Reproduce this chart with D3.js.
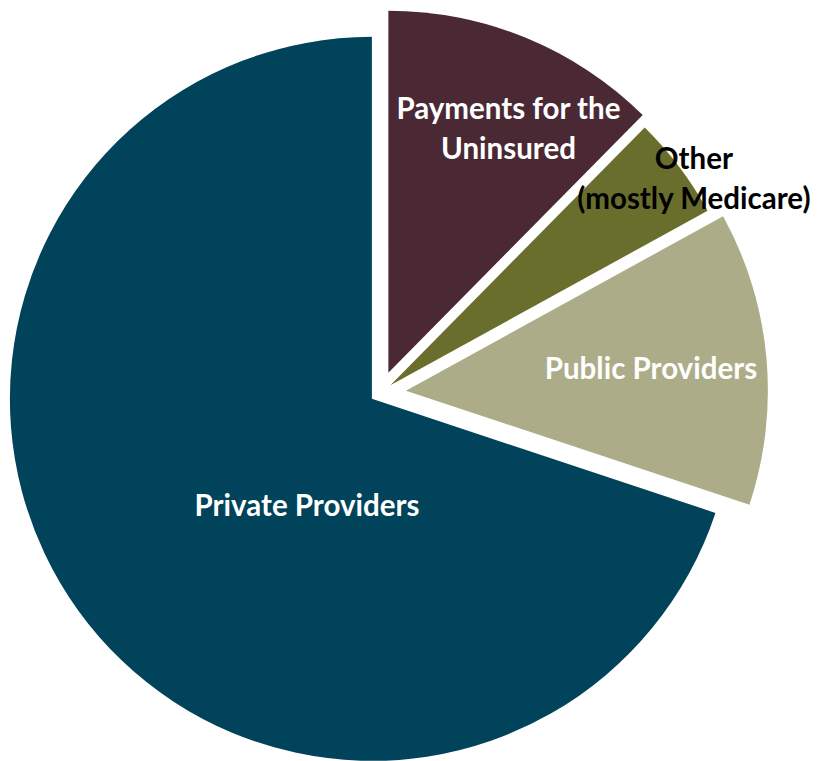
<!DOCTYPE html>
<html>
<head>
  <meta charset="utf-8">
  <title>Pie Chart</title>
  <script src="https://d3js.org/d3.v7.min.js"></script>
  <style>
    body { margin: 0; background: #fff; }
    .label { font-family: Lato, "Open Sans", sans-serif; font-weight: bold; }
  </style>
</head>
<body>
  <svg id="chart"></svg>

  <script>
    // Data (share of total, %)
    const categories = ["Payments for the Uninsured", "Other (mostly Medicare)", "Public Providers", "Private Providers"];
    const values = [12.4, 4.6, 13.1, 69.9];
    const labelLines = [
      ["Payments for the", "Uninsured"],
      ["Other", "(mostly Medicare)"],
      ["Public Providers"],
      ["Private Providers"]
    ];

    // Styling / layout
    const colors = ["#4a2935", "#6a6e2c", "#acad88", "#01435a"];
    const textColors = ["#fff", "#000", "#fff", "#fff"];
    const explode = [22, 13, 26, 10];
    // label position relative to the slice apex: [angle in degrees from 12 o'clock, distance]
    const labelPos = [[26.2, 272], [55.8, 367], [84.9, 246], [211.3, 125]];

    const width = 817;
    const height = 761;
    const cx = 380, cy = 393;
    const radius = 362;
    const fontSize = 29.5;
    const lineHeight = 40;
    const capHeight = 20;

    const svg = d3.select("#chart")
                  .attr("width", width)
                  .attr("height", height);

    const pie = d3.pie().sort(null).value(d => d);
    const arcs = pie(values);
    const arc = d3.arc().innerRadius(0).outerRadius(radius);

    const slices = svg.selectAll(".slice")
                      .data(arcs)
                      .enter()
                      .append("g")
                      .attr("class", "slice")
                      .attr("transform", (d, i) => {
                        const mid = (d.startAngle + d.endAngle) / 2;
                        const x = cx + explode[i] * Math.sin(mid);
                        const y = cy - explode[i] * Math.cos(mid);
                        return `translate(${x},${y})`;
                      });

    slices.append("path")
          .attr("d", arc)
          .attr("fill", (d, i) => colors[i]);

    // Labels drawn on top of all slices
    slices.each(function(d, i) {
      const a = labelPos[i][0] * Math.PI / 180;
      const r = labelPos[i][1];
      const lx = r * Math.sin(a);
      const ly = -r * Math.cos(a);
      const lines = labelLines[i];
      const firstBase = ly - (lines.length - 1) * lineHeight / 2 + capHeight / 2;
      const g = d3.select(this.parentNode).append("g")
                  .attr("transform", d3.select(this).attr("transform"));
      const t = g.append("text")
                 .attr("class", "label")
                 .attr("text-anchor", "middle")
                 .attr("font-size", fontSize)
                 .attr("fill", textColors[i]);
      lines.forEach((line, k) => {
        t.append("tspan")
         .attr("x", lx)
         .attr("y", firstBase + k * lineHeight)
         .text(line);
      });
    });
  </script>
</body>
</html>
